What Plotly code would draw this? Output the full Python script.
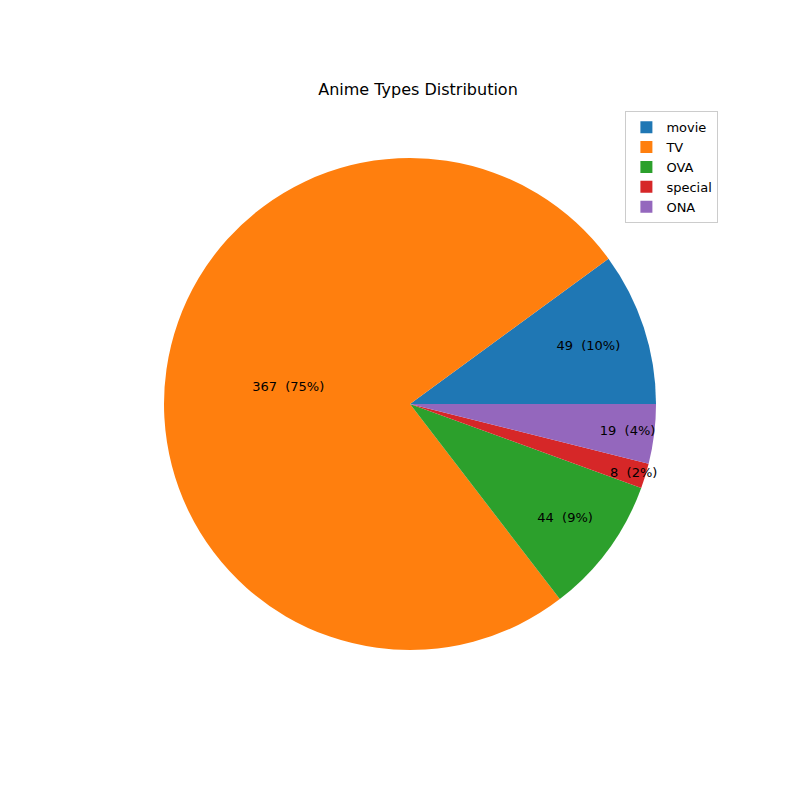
import plotly.graph_objects as go

labels = ["movie", "TV", "OVA", "special", "ONA"]
counts = [49, 367, 44, 8, 19]
colors = ["#1f77b4", "#ff7f0e", "#2ca02c", "#d62728", "#9467bd"]

total = sum(counts)
texts = [f"{c}  ({round(c / total * 100)}%)" for c in counts]

fig = go.Figure(go.Pie(
    labels=labels,
    values=counts,
    text=texts,
    textinfo="text",
    textposition="inside",
    insidetextorientation="horizontal",
    textfont=dict(color="black", size=13),
    marker=dict(colors=colors),
    sort=False,
    direction="counterclockwise",
    rotation=90 - 360 * counts[0] / total,
    domain=dict(x=[0.195, 0.81], y=[0.1975, 0.8125]),
    hoverinfo="label+value+percent",
))

fig.update_layout(
    width=800, height=800,
    margin=dict(l=0, r=0, t=0, b=0),
    paper_bgcolor="white",
    uniformtext=dict(minsize=13, mode="show"),
    font=dict(family="DejaVu Sans", size=12, color="black"),
    title=dict(text="Anime Types Distribution", x=0.5125, y=0.898,
               xanchor="center", yanchor="middle", font=dict(size=16)),
    legend=dict(x=0.888, y=0.871, xanchor="right", yanchor="top",
                bordercolor="#cccccc", borderwidth=1, font=dict(size=13)),
)

fig.write_html("out.html")
